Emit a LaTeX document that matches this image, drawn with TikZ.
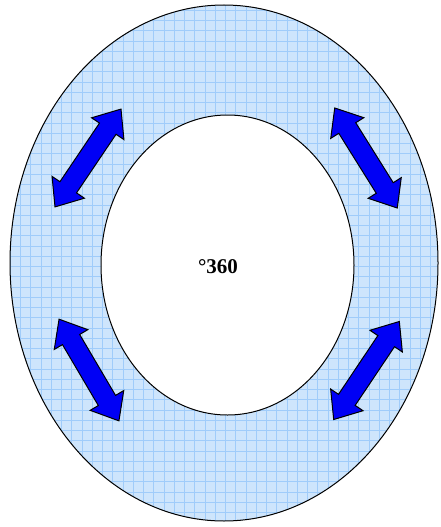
\documentclass[tikz,border=0pt]{standalone}
\usepackage{fontspec}
\setmainfont{Liberation Serif}
\usepackage{tikz}
\usetikzlibrary{shapes.arrows}
\definecolor{ringfill}{RGB}{206,229,252}
\definecolor{ringgrid}{RGB}{160,204,250}
\definecolor{arrowblue}{RGB}{0,0,245}

\begin{document}
\begin{tikzpicture}[x=1pt,y=-1pt,
    flow/.style={double arrow,draw=black,line width=1pt,fill=arrowblue,
      inner xsep=0pt,inner ysep=9.5pt,double arrow head extend=9.5pt,
      double arrow tip angle=79,minimum height=118pt}]
    \useasboundingbox (0,0) rectangle (440,527);
    % Outer ring
    \fill[ringfill] (224,263) ellipse [x radius=214,y radius=258];
    \begin{scope}
      \clip (224,263) ellipse [x radius=214,y radius=258];
      \draw[ringgrid,line width=0.6pt,step=10.25pt] (0,527) grid (440,0);
    \end{scope}
    \draw[line width=1pt] (224,263) ellipse [x radius=214,y radius=258];
    % Inner hole
    \draw[line width=1pt,fill=white] (227.5,265) ellipse [x radius=126.5,y radius=150];
    \node[font=\fontsize{21}{25}\selectfont\bfseries] (deg) at (218,267) {°360};
    % Arrows
    \node[flow,rotate=56] (arrNW) at (88,158) {};
    \node[flow,rotate=-58] (arrNE) at (366,158) {};
    \node[flow,rotate=-59.5] (arrSW) at (89,370) {};
    \node[flow,rotate=56.2] (arrSE) at (366.5,370.5) {};
  \end{tikzpicture}
\end{document}
